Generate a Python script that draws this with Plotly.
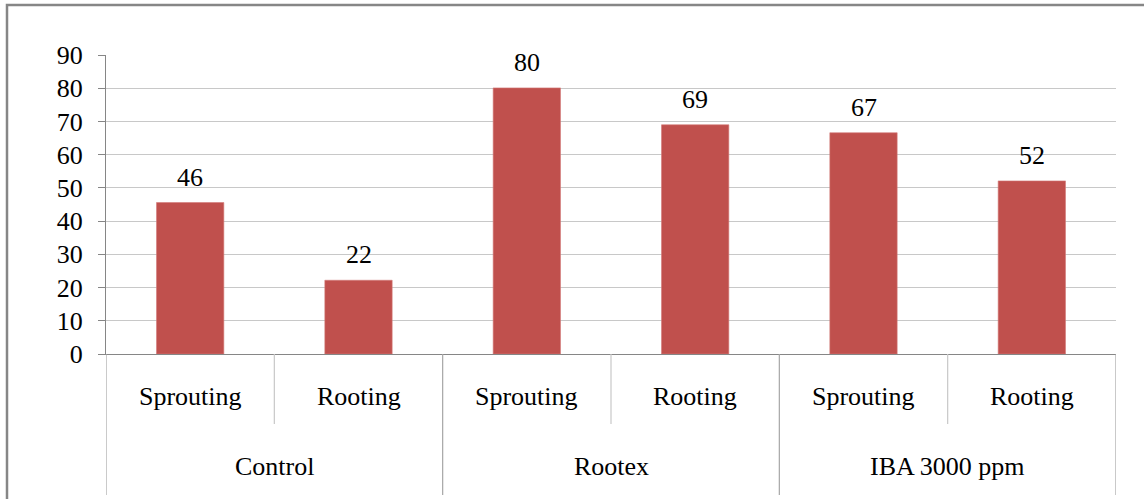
import plotly.graph_objects as go

groups = ["Control", "Rootex", "IBA 3000 ppm"]
subcats = ["Sprouting", "Rooting"]
values = [45.6, 22.2, 80.1, 69.0, 66.6, 52.1]
y_ticks = [0, 10, 20, 30, 40, 50, 60, 70, 80, 90]

cat_labels = [f"{g} | {s}" for g in groups for s in subcats]
n = len(cat_labels)

W, H = 1144, 499
L, R, T, B = 106, 28, 55, 145
plot_h = H - T - B

FONT = "Liberation Serif"
FS = 26

fig = go.Figure()
fig.add_trace(go.Bar(
    x=list(range(n)), y=values,
    marker=dict(color="#C0504D", line=dict(color="#D47A78", width=0.6)),
    width=0.4,
    hoverinfo="skip",
))

annotations = []
for i, v in enumerate(values):
    annotations.append(dict(x=i, y=v, xref="x", yref="y", text=f"{v:.0f}",
                            showarrow=False, yanchor="bottom", yshift=9,
                            font=dict(family=FONT, size=FS, color="#000")))

def py(px):
    return (H - B - px) / plot_h

for gi, g in enumerate(groups):
    for si, s in enumerate(subcats):
        annotations.append(dict(x=gi * 2 + si, y=py(396), xref="x", yref="paper",
                                text=s, showarrow=False, yanchor="middle",
                                font=dict(family=FONT, size=FS, color="#000")))
    annotations.append(dict(x=gi * 2 + 0.5, y=py(466), xref="x", yref="paper",
                            text=g, showarrow=False, yanchor="middle",
                            font=dict(family=FONT, size=FS, color="#000")))

shapes = []
# group dividers
for k in range(len(groups) + 1):
    shapes.append(dict(type="line", xref="x", yref="paper",
                       x0=k * 2 - 0.5, x1=k * 2 - 0.5, y0=py(354), y1=py(495),
                       line=dict(color="#A6A6A6", width=1.2)))
# inner dividers
for k in range(len(groups)):
    shapes.append(dict(type="line", xref="x", yref="paper",
                       x0=k * 2 + 0.5, x1=k * 2 + 0.5, y0=py(354), y1=py(424),
                       line=dict(color="#C8C8C8", width=1.2)))
# outer chart border (top and left)
plot_w = W - L - R
shapes.append(dict(type="rect", xref="paper", yref="paper",
                   x0=(7 - L) / plot_w, x1=(W + 20 - L) / plot_w,
                   y0=py(H + 20), y1=py(5),
                   line=dict(color="#868686", width=2.5)))

fig.update_layout(
    width=W, height=H,
    margin=dict(l=L, r=R, t=T, b=B, pad=0),
    paper_bgcolor="white", plot_bgcolor="white",
    showlegend=False,
    bargap=0.6,
    annotations=annotations,
    shapes=shapes,
    font=dict(family=FONT, size=FS, color="#000"),
    xaxis=dict(range=[-0.5, n - 0.5], showticklabels=False, showgrid=False,
               showline=True, linecolor="#868686", linewidth=1.2,
               zeroline=False, ticks="", fixedrange=True),
    yaxis=dict(range=[0, 90], tickvals=y_ticks, ticks="outside", ticklen=7,
               tickcolor="#868686", tickwidth=1,
               showline=True, linecolor="#868686", linewidth=1.2,
               showgrid=True, gridcolor="#C8C8C8", gridwidth=1,
               zeroline=False,
               tickfont=dict(family=FONT, size=FS, color="#000"),
               ticklabelstandoff=10),
)

fig.write_html("out.html")
